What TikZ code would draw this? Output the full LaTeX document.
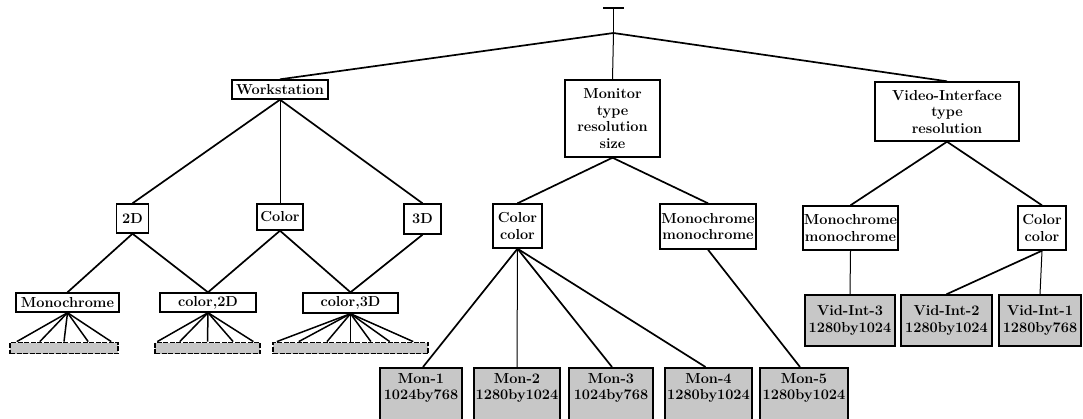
\documentclass[tikz,border=0pt]{standalone}
\usetikzlibrary{calc}
\begin{document}
\begin{tikzpicture}[x=1pt,y=-1pt,
  every node/.style={font=\fontsize{14.5}{16.5}\selectfont\bfseries, inner sep=0pt, align=center},
  box/.style={draw, line width=1.4pt, fill=white},
  shaded/.style={draw, line width=1.5pt, fill=black!22},
  bar/.style={draw, line width=1.8pt, dashed, dash pattern=on 5pt off 1.5pt, fill=black!22, minimum height=11pt},
  edge/.style={line width=1.7pt},
  vedge/.style={line width=1pt},
  leaf/.style={line width=1.5pt}]
\clip (0,0) rectangle (1083,418);
\fill[white] (0,0) rectangle (1083,418);
% root
\coordinate (tl) at (603,8);
\coordinate (tr) at (624,8);
\coordinate (top) at (613.5,8);
\coordinate (root) at (613.5,33);
\draw[line width=1.1pt] (tl) -- (tr);
\draw[vedge] (top) -- (root);
% level 1
\node[box, minimum width=96pt, minimum height=19pt] (ws) at (280,89.5) {Workstation};
\node[box, minimum width=95pt, minimum height=77pt] (mon) at (612.5,118.5) {Monitor\\type\\resolution\\size};
\node[box, minimum width=144pt, minimum height=59pt] (vid) at (947,111.5) {Video-Interface\\type\\resolution};
% level 2
\node[box, minimum width=32pt, minimum height=29pt] (d2) at (132.5,218.5) {2D};
\node[box, minimum width=46pt, minimum height=26pt] (wcol) at (280,217) {Color};
\node[box, minimum width=37pt, minimum height=30pt] (d3) at (422.5,219) {3D};
\node[box, minimum width=49pt, minimum height=44pt] (mcol) at (517.5,226) {Color\\color};
\node[box, minimum width=96pt, minimum height=45pt] (mmono) at (708,226.5) {Monochrome\\monochrome};
\node[box, minimum width=95pt, minimum height=44pt] (vmono) at (850.5,228) {Monochrome\\monochrome};
\node[box, minimum width=48pt, minimum height=44pt] (vcol) at (1042,228) {Color\\color};
% level 3 (workstation)
\node[box, minimum width=103pt, minimum height=19pt] (wmono) at (67.5,302.5) {Monochrome};
\node[box, minimum width=96pt, minimum height=19pt] (c2d) at (208,302.5) {color,2D};
\node[box, minimum width=95pt, minimum height=20pt] (c3d) at (350.5,303) {color,3D};
\node[bar, minimum width=108pt] (bar1) at (64,348) {};
\node[bar, minimum width=105pt] (bar2) at (207.5,348) {};
\node[bar, minimum width=155pt] (bar3) at (350.5,348) {};
% monitors
\foreach \n/\x/\w/\a/\b in {mona/421/82/Mon-1/1024by768, monb/517/86/Mon-2/1280by1024, monc/611/84/Mon-3/1024by768, mond/708.5/87/Mon-4/1280by1024, mone/804/88/Mon-5/1280by1024}{
  \node[shaded, anchor=north, minimum width=\w pt, minimum height=70pt] (\n) at (\x,367) {};
  \node[anchor=north] (\n t) at ($(\n.north)+(0,6)$) {\a\\\b};
}
% video interfaces
\node[shaded, minimum width=90pt, minimum height=51pt] (vi3) at (850,320.5) {Vid-Int-3\\1280by1024};
\node[shaded, minimum width=91pt, minimum height=51pt] (vi2) at (946.5,320.5) {Vid-Int-2\\1280by1024};
\node[shaded, minimum width=82pt, minimum height=51pt] (vi1) at (1040,320.5) {Vid-Int-1\\1280by768};
% edges
\draw[edge] (root) -- (ws.north);
\draw[vedge] (root) -- (mon.north);
\draw[edge] (root) -- (vid.north);
\draw[edge] (ws.south) -- (d2.north);
\draw[vedge] (ws.south) -- (wcol.north);
\draw[edge] (ws.south) -- (d3.north);
\draw[edge] (d2.south) -- (wmono.north);
\draw[edge] (d2.south) -- (c2d.north);
\draw[edge] (wcol.south) -- (c2d.north);
\draw[edge] (wcol.south) -- (c3d.north);
\draw[edge] (d3.south) -- (c3d.north);
\draw[edge] (mon.south) -- (mcol.north);
\draw[edge] (mon.south) -- (mmono.north);
\draw[edge] (vid.south) -- (vmono.north);
\draw[edge] (vid.south) -- (vcol.north);
\draw[edge] (mcol.south) -- ($(mona.north)+(2,0)$);
\draw[vedge] (mcol.south) -- (monb.north);
\draw[edge] (mcol.south) -- ($(monc.north)+(1,0)$);
\draw[edge] (mcol.south) -- ($(mond.north)+(-3,0)$);
\draw[edge] (mmono.south) -- ($(mone.north)+(-4,0)$);
\draw[vedge] (vmono.south) -- (vi3.north);
\draw[edge] (vcol.south) -- (vi2.north);
\draw[vedge] (vcol.south) -- (vi1.north);
% leaf fans
\foreach \t in {0.07,0.28,0.5,0.72,0.93}
  \draw[leaf] (wmono.south) -- ($(bar1.north west)!\t!(bar1.north east)$);
\foreach \t in {0.03,0.24,0.5,0.74,0.93}
  \draw[leaf] (c2d.south) -- ($(bar2.north west)!\t!(bar2.north east)$);
\foreach \t in {0.03,0.17,0.35,0.5,0.63,0.75,0.9}
  \draw[leaf] (c3d.south) -- ($(bar3.north west)!\t!(bar3.north east)$);
\end{tikzpicture}
\end{document}
